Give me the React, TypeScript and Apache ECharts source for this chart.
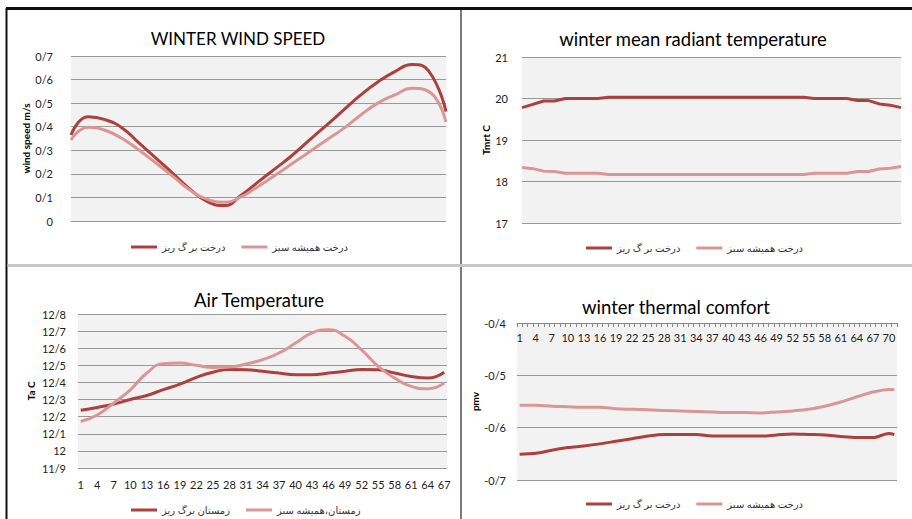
import React, { useEffect, useRef } from "react";
import * as echarts from "echarts";

// ---------- Data ----------
const seriesNames = ["درخت بر گ ریز", "درخت همیشه سبز"];
const airNames = ["زمستان برگ ریز", "زمستان،همیشه سبز"];

// Panel 1 – winter wind speed (23 evenly spaced samples, no x labels)
const windDeciduous = [0.365, 0.442, 0.43, 0.395, 0.33, 0.266, 0.2, 0.134, 0.082, 0.066, 0.11, 0.167, 0.223, 0.28, 0.344, 0.407, 0.471, 0.535, 0.59, 0.634, 0.664, 0.635, 0.464];
const windEvergreen = [0.344, 0.398, 0.385, 0.35, 0.3, 0.245, 0.188, 0.13, 0.092, 0.08, 0.103, 0.148, 0.195, 0.245, 0.294, 0.344, 0.393, 0.45, 0.5, 0.535, 0.563, 0.549, 0.42];

// Panel 2 – winter mean radiant temperature (36 evenly spaced samples)
const mrtDeciduous = [19.78, 19.86, 19.94, 19.94, 20.0, 20.0, 20.0, 20.0, 20.03, 20.03, 20.03, 20.03, 20.03, 20.03, 20.03, 20.03, 20.03, 20.03, 20.03, 20.03, 20.03, 20.03, 20.03, 20.03, 20.03, 20.03, 20.03, 20.0, 20.0, 20.0, 20.0, 19.95, 19.95, 19.87, 19.84, 19.78];
const mrtEvergreen = [18.34, 18.31, 18.25, 18.24, 18.2, 18.2, 18.2, 18.2, 18.17, 18.17, 18.17, 18.17, 18.17, 18.17, 18.17, 18.17, 18.17, 18.17, 18.17, 18.17, 18.17, 18.17, 18.17, 18.17, 18.17, 18.17, 18.17, 18.2, 18.2, 18.2, 18.2, 18.24, 18.24, 18.3, 18.32, 18.36];

// Panel 3 – air temperature (categories 1..67, values at every 3rd)
const airCategories = Array.from({ length: 67 }, (_, i) => String(i + 1));
const airSampleX = ["1", "4", "7", "10", "13", "16", "19", "22", "25", "28", "31", "34", "37", "40", "43", "46", "49", "52", "55", "58", "61", "64", "67"];
const airDeciduous = [12.237, 12.254, 12.274, 12.3, 12.324, 12.358, 12.39, 12.43, 12.46, 12.476, 12.474, 12.465, 12.455, 12.445, 12.445, 12.455, 12.465, 12.476, 12.474, 12.455, 12.435, 12.426, 12.46];
const airEvergreen = [12.172, 12.21, 12.28, 12.357, 12.455, 12.51, 12.513, 12.5, 12.488, 12.49, 12.508, 12.533, 12.572, 12.63, 12.69, 12.708, 12.67, 12.59, 12.494, 12.426, 12.377, 12.363, 12.396];

// Panel 4 – winter thermal comfort (categories 1..71)
const pmvCategories = Array.from({ length: 71 }, (_, i) => String(i + 1));
const pmvSampleX = ["1", "4", "7", "10", "13", "16", "19", "22", "25", "28", "31", "34", "37", "40", "43", "46", "49", "52", "55", "58", "61", "64", "67", "70", "71"];
const pmvDeciduous = [-0.651, -0.649, -0.643, -0.638, -0.635, -0.631, -0.626, -0.621, -0.616, -0.613, -0.613, -0.613, -0.616, -0.616, -0.616, -0.616, -0.614, -0.612, -0.613, -0.614, -0.617, -0.619, -0.619, -0.611, -0.613];
const pmvEvergreen = [-0.557, -0.557, -0.559, -0.56, -0.561, -0.561, -0.564, -0.565, -0.566, -0.567, -0.568, -0.569, -0.57, -0.571, -0.571, -0.572, -0.57, -0.568, -0.565, -0.559, -0.551, -0.541, -0.532, -0.527, -0.527];

// ---------- Styles ----------
const DARK = "#ad3f3c";
const LIGHT = "#d99694";
const FONT = 'Lato, "DejaVu Sans", sans-serif';
const GRID_COLOR = "#999999";
const PLOT_BG = "#f2f2f2";

const slashFmt = (v: number) => {
  const s = String(Number(v.toFixed(1)));
  return s.replace(".", "/");
};

export default function App() {
  const ref = useRef<HTMLDivElement>(null);

  useEffect(() => {
    if (!ref.current) return;
    const chart = echarts.init(ref.current, undefined, { renderer: "svg" });

    const grids = [
      { left: 71, top: 56, width: 375, height: 165 },
      { left: 522, top: 57, width: 379, height: 166 },
      { left: 78, top: 314, width: 369, height: 154 },
      { left: 517, top: 323, width: 380, height: 157 },
    ].map((g) => ({ ...g, show: true, backgroundColor: PLOT_BG, borderWidth: 0, containLabel: false }));

    const yBase = (gi: number, min: number, max: number, interval: number, name: string, nameGap: number, margin: number, fmt?: any) => ({
      type: "value",
      gridIndex: gi,
      min,
      max,
      interval,
      name,
      nameLocation: "middle",
      nameGap,
      nameRotate: 90,
      nameTextStyle: { fontFamily: FONT, fontSize: 10, fontWeight: "bold", color: "#000" },
      axisLine: { show: false },
      axisTick: { show: false },
      axisLabel: { fontFamily: FONT, fontSize: 11, color: "#222", margin, formatter: fmt },
      splitLine: { show: true, lineStyle: { color: GRID_COLOR, width: 1 } },
    });

    const lineSeries = (name: string, color: string, data: any[], xi: number, smooth: any) => ({
      type: "line",
      name,
      xAxisIndex: xi,
      yAxisIndex: xi,
      data,
      smooth,
      color,
      showSymbol: false,
      symbol: "none",
      lineStyle: { color, width: 3 },
      connectNulls: true,
    });

    const legendBase = (names: string[], left: number, top: number) => ({
      data: names,
      left,
      top,
      icon: "rect",
      itemWidth: 26,
      itemHeight: 3,
      itemGap: 16,
      textStyle: { fontFamily: FONT, fontSize: 10, color: "#333" },
    });

    const titleBase = (text: string, x: number, top: number, size: number) => ({
      text,
      left: x,
      top,
      textAlign: "center",
      textStyle: { fontFamily: FONT, fontSize: size, fontWeight: "normal", color: "#000" },
    });

    const option: any = {
      animation: false,
      backgroundColor: "#ffffff",
      title: [
        titleBase("WINTER WIND SPEED", 233, 25, 17),
        titleBase("winter mean radiant temperature", 688, 24, 18.5),
        titleBase("Air Temperature", 254, 285, 18.5),
        titleBase("winter thermal comfort", 671, 292, 18.5),
      ],
      legend: [
        legendBase(seriesNames, 126, 237),
        legendBase(seriesNames, 581, 238),
        legendBase(airNames, 126, 500),
        legendBase(seriesNames, 581, 494),
      ],
      grid: grids,
      xAxis: [
        {
          type: "category",
          gridIndex: 0,
          boundaryGap: false,
          data: windDeciduous.map((_, i) => String(i + 1)),
          axisLine: { show: false },
          axisTick: { show: false },
          axisLabel: { show: false },
        },
        {
          type: "category",
          gridIndex: 1,
          boundaryGap: false,
          data: mrtDeciduous.map((_, i) => String(i + 1)),
          axisLine: { show: false },
          axisTick: { show: false },
          axisLabel: { show: false },
        },
        {
          type: "category",
          gridIndex: 2,
          boundaryGap: true,
          data: airCategories,
          axisLine: { show: false },
          axisTick: { show: false },
          axisLabel: { interval: 2, fontFamily: FONT, fontSize: 11, color: "#222", margin: 11 },
        },
        {
          type: "category",
          gridIndex: 3,
          position: "top",
          boundaryGap: true,
          data: pmvCategories,
          axisLine: { show: true, lineStyle: { color: "#8a8a8a", width: 1 } },
          axisTick: { show: true, inside: true, interval: 0, length: 4, lineStyle: { color: "#8a8a8a" } },
          axisLabel: { inside: true, interval: 2, fontFamily: FONT, fontSize: 11, color: "#222", margin: 9 },
        },
      ],
      yAxis: [
        yBase(0, 0, 0.7, 0.1, "wind speed m/s", 32, 18, slashFmt),
        yBase(1, 17, 21, 1, "Tmrt C", 31, 14),
        yBase(2, 11.9, 12.8, 0.1, "Ta C", 42, 12, slashFmt),
        yBase(3, -0.7, -0.4, 0.1, "pmv", 36, 11, slashFmt),
      ],
      series: [
        lineSeries(seriesNames[0], DARK, windDeciduous, 0, 0.5),
        lineSeries(seriesNames[1], LIGHT, windEvergreen, 0, 0.5),
        lineSeries(seriesNames[0], DARK, mrtDeciduous, 1, false),
        lineSeries(seriesNames[1], LIGHT, mrtEvergreen, 1, false),
        lineSeries(airNames[0], DARK, airSampleX.map((x, i) => [x, airDeciduous[i]]), 2, 0.5),
        lineSeries(airNames[1], LIGHT, airSampleX.map((x, i) => [x, airEvergreen[i]]), 2, 0.5),
        lineSeries(seriesNames[0], DARK, pmvSampleX.map((x, i) => [x, pmvDeciduous[i]]), 3, 0.3),
        lineSeries(seriesNames[1], LIGHT, pmvSampleX.map((x, i) => [x, pmvEvergreen[i]]), 3, 0.3),
      ],
      graphic: [
        { type: "line", shape: { x1: 6, y1: 8.5, x2: 912, y2: 8.5 }, style: { stroke: "#111", lineWidth: 3 }, silent: true },
        { type: "line", shape: { x1: 6.5, y1: 8, x2: 6.5, y2: 519 }, style: { stroke: "#111", lineWidth: 2 }, silent: true },
        { type: "line", shape: { x1: 461, y1: 10, x2: 461, y2: 519 }, style: { stroke: "#7a7a7a", lineWidth: 2 }, silent: true },
        { type: "line", shape: { x1: 7.5, y1: 265.5, x2: 912, y2: 265.5 }, style: { stroke: "#c8c8c8", lineWidth: 3 }, silent: true },
      ],
    };

    chart.setOption(option);
    return () => chart.dispose();
  }, []);

  return (
    <div
      ref={ref}
      style={{ position: "absolute", left: 0, top: 0, width: 912, height: 519, background: "#fff" }}
    />
  );
}
